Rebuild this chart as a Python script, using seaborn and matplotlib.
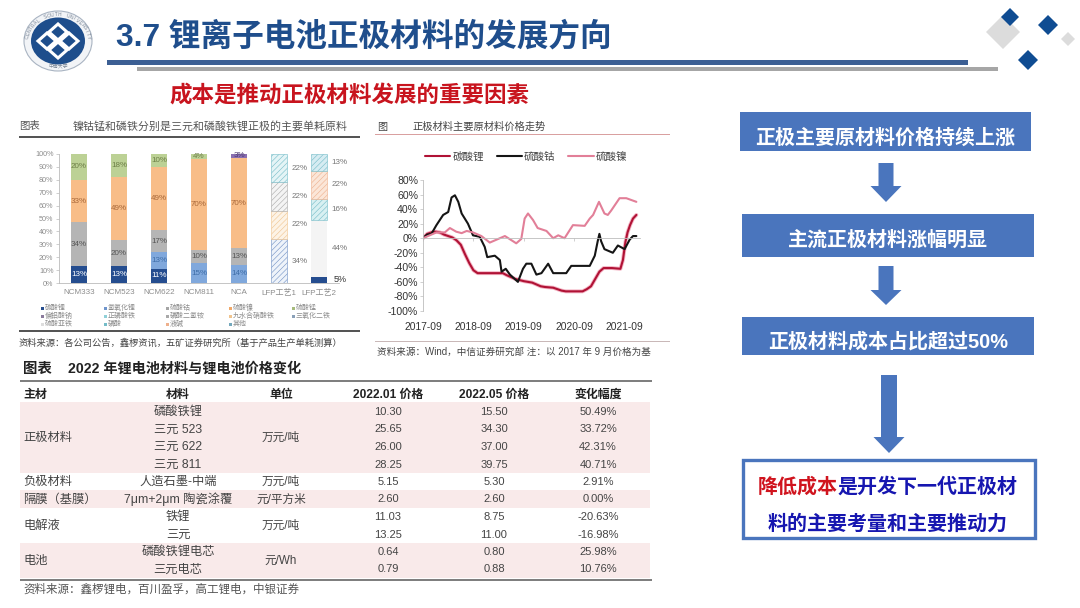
import numpy as np
import pandas as pd
import matplotlib
matplotlib.use("Agg")
import matplotlib.pyplot as plt
from matplotlib.patches import Rectangle, Polygon, Ellipse
import seaborn as sns

# stacked bars: share of raw materials per cathode type
categories = ["NCM333", "NCM523", "NCM622", "NCM811", "NCA", "LFP工艺1", "LFP工艺2"]
li_carbonate = [13, 13, 11, 0, 0, 0, 5]
li_hydroxide = [0, 0, 13, 15, 14, 0, 0]
cobalt_sulfate = [34, 20, 17, 10, 13, 0, 0]
nickel_sulfate = [33, 49, 49, 70, 70, 0, 0]
manganese_sulfate = [20, 18, 10, 4, 0, 0, 0]
sodium_aluminate = [0, 0, 0, 0, 3, 0, 0]
iron_phosphate = [0, 0, 0, 0, 0, 34, 0]
iron_nitrate = [0, 0, 0, 0, 0, 22, 0]
ammonium_phosphate = [0, 0, 0, 0, 0, 22, 0]
iron_oxide = [0, 0, 0, 0, 0, 22, 0]
ferrous_sulfate = [0, 0, 0, 0, 0, 0, 44]
phosphoric_acid = [0, 0, 0, 0, 0, 0, 16]
lye = [0, 0, 0, 0, 0, 0, 22]
others = [0, 0, 0, 0, 0, 0, 13]
legend_names = ["碳酸锂", "氢氧化锂", "硫酸钴", "硫酸镍", "硫酸锰",
                "偏铝酸钠", "正磷酸铁", "磷酸二氢铵", "九水合硝酸铁", "三氧化二铁",
                "硫酸亚铁", "磷酸", "液碱", "其他"]

# price trend, months since 2017-09, % change
li_months = [0, 1, 2, 3, 4, 5, 6, 7, 8, 9, 10, 11, 12, 13, 15, 17, 19, 20, 22, 24, 26, 28, 29, 31,
             33, 34, 36, 38, 39, 40, 41, 42, 43, 45, 47, 47.6, 48.2, 48.7, 49.3, 50, 50.8]
li_change = [0, 6, 8, 9, 8, 5, 3, 1, -3, -9, -22, -34, -44, -48, -48, -48, -48, -51, -56, -59, -61, -66, -67, -68,
             -72, -73, -73, -73, -70, -66, -56, -46, -41, -41, -42, -30, -5, 8, 18, 27, 32]
co_months = [0, 1, 2, 3.2, 4.8, 6, 6.8, 7.6, 8.4, 9.2, 10.7, 11.9, 13.5, 14.7, 15.3, 17.1, 18.3, 18.7,
             19.7, 20.7, 22.6, 23.8, 24.6, 25.8, 27, 28.2, 29.8, 31, 34.1, 35.3, 39.7, 40.9, 41.6, 42,
             42.4, 43.2, 45.2, 46.4, 48, 49.2, 50, 50.8]
co_change = [0, 5, 6, 18, 32, 36, 56, 59, 50, 34, 20, 4, 2, -12, -26, -24, -30, -46,
             -42, -50, -60, -42, -35, -35, -50, -48, -35, -48, -48, -38, -38, -24, -4, 6,
             -4, -15, -20, -10, -15, -2, 3, 3]
ni_months = [0, 3.2, 5.2, 6.4, 7.9, 9.2, 10.4, 11.9, 13.9, 15.9, 17.9, 19.5, 21.4, 22.2, 23.4, 24.2, 25,
             26.2, 27.3, 29.4, 31, 32.2, 33.7, 35.7, 38.5, 39.7, 40.5, 41.9, 43.2, 44, 44.8, 46.8, 48.4, 50.8]
ni_change = [0, 8, 8, 14, 9, 7, 10, 8, 3, -6, -1, 3, -4, -7, -1, 27, 34,
             25, 14, 10, 0, 4, 0, 18, 17, 27, 32, 50, 34, 32, 38, 55, 55, 50]
trend_tick_months = [0, 12, 24, 36, 48]
trend_tick_labels = ["2017-09", "2018-09", "2019-09", "2020-09", "2021-09"]

# price table
table_header = ["主材", "材料", "单位", "2022.01 价格", "2022.05 价格", "变化幅度"]
table_group = ["正极材料", "负极材料", "隔膜（基膜）", "电解液", "电池"]
table_material = ["磷酸铁锂", "三元 523", "三元 622", "三元 811", "人造石墨-中端",
                  "7μm+2μm 陶瓷涂覆", "铁锂", "三元", "磷酸铁锂电芯", "三元电芯"]
table_unit = ["万元/吨", "万元/吨", "元/平方米", "万元/吨", "元/Wh"]
price_jan = ["10.30", "25.65", "26.00", "28.25", "5.15", "2.60", "11.03", "13.25", "0.64", "0.79"]
price_may = ["15.50", "34.30", "37.00", "39.75", "5.30", "2.60", "8.75", "11.00", "0.80", "0.88"]
price_change = ["50.49%", "33.72%", "42.31%", "40.71%", "2.91%", "0.00%", "-20.63%", "-16.98%", "25.98%", "10.76%"]

sns.set_theme(style="white")
plt.rcParams["font.family"] = ["Liberation Sans", "Noto Sans CJK SC", "DejaVu Sans"]
plt.rcParams["hatch.linewidth"] = 0.4
plt.rcParams["axes.unicode_minus"] = False

W, H = 1080, 608
BLUE = "#4a75bd"
fig = plt.figure(figsize=(W / 100, H / 100), dpi=100, facecolor="white")

# whole slide in pixel coordinates
bg = fig.add_axes([0, 0, 1, 1])
bg.set_xlim(0, W)
bg.set_ylim(H, 0)
bg.axis("off")


def px_axes(left, top, right, bottom):
    ax = fig.add_axes([left / W, 1 - bottom / H, (right - left) / W, (bottom - top) / H])
    ax.patch.set_visible(False)
    return ax


def rect(x0, y0, x1, y1, **kw):
    bg.add_patch(Rectangle((x0, y0), x1 - x0, y1 - y0, linewidth=kw.pop("linewidth", 0), **kw))


def diamond(cx, cy, r, color):
    bg.add_patch(Polygon([(cx - r, cy), (cx, cy - r), (cx + r, cy), (cx, cy + r)], closed=True,
                         facecolor=color, edgecolor="none"))


def down_arrow(cx, top, neck, tip, half_shaft, half_head):
    pts = [(cx - half_shaft, top), (cx + half_shaft, top), (cx + half_shaft, neck), (cx + half_head, neck),
           (cx, tip), (cx - half_head, neck), (cx - half_shaft, neck)]
    bg.add_patch(Polygon(pts, closed=True, facecolor=BLUE, edgecolor="none"))


# ---- header ----
bg.add_patch(Ellipse((58, 41), 68, 60, facecolor="#f2f4f7", edgecolor="#a9b4c2", linewidth=0.8))
bg.add_patch(Ellipse((58, 41), 54, 47, facecolor="#1e4e8c", edgecolor="none"))
for cx, cy in [(47, 41), (69, 41), (58, 32), (58, 50)]:
    bg.add_patch(Polygon([(cx - 9, cy), (cx, cy - 8), (cx + 9, cy), (cx, cy + 8)], closed=True,
                         facecolor="none", edgecolor="white", linewidth=2.2))
ring = "CENTRAL SOUTH UNIVERSITY"
for ch, deg in zip(ring, np.linspace(172, 8, len(ring))):
    t = np.radians(deg)
    bg.text(58 + 30.5 * np.cos(t), 41 - 26.5 * np.sin(t), ch, fontsize=3.6, color="#7b8797",
            ha="center", va="center", rotation=deg - 90)
bg.text(58, 67, "中南大学", fontsize=3.5, color="#7b8797", ha="center", va="center")

bg.text(116, 37, "3.7 锂离子电池正极材料的发展方向", fontsize=22.8, fontweight="bold", color="#1f4e8c",
        ha="left", va="center")
rect(107, 60, 968, 65, facecolor="#3c5f94")
rect(137, 67, 998, 71, facecolor="#a6a6a6")
diamond(1003, 32, 17, "#dcdcdc")
diamond(1010, 17, 9, "#0f4c92")
diamond(1048, 25, 10, "#0f4c92")
diamond(1068, 39, 7, "#dcdcdc")
diamond(1028, 60, 10, "#0f4c92")
bg.text(349, 96, "成本是推动正极材料发展的重要因素", fontsize=16.2, fontweight="bold", color="#c8141e",
        ha="center", va="center")

# ---- raw material bars ----
bg.text(19, 126, "图表", fontsize=7.5, color="#555555", va="center")
bg.text(73, 126, "镍钴锰和磷铁分别是三元和磷酸铁锂正极的主要单耗原料", fontsize=7.9, color="#555555", va="center")
rect(19, 136, 360, 137.5, facecolor="#555555")

series = [
    (li_carbonate, "#254d8f", "#254d8f", None, "white"),
    (li_hydroxide, "#80a8dc", "#80a8dc", None, "#3f6ea8"),
    (cobalt_sulfate, "#b5b5b5", "#b5b5b5", None, "#555555"),
    (nickel_sulfate, "#f8bd88", "#f8bd88", None, "#a8683a"),
    (manganese_sulfate, "#bcd195", "#bcd195", None, "#6d7f47"),
    (sodium_aluminate, "#8a6fb0", "#8a6fb0", None, "#4d3a72"),
    (iron_phosphate, "#eef3fa", "#6f90c4", "//////", "#666666"),
    (iron_nitrate, "#fdf3e6", "#f0c48e", "//////", "#666666"),
    (ammonium_phosphate, "#f4f4f4", "#a9a9a9", "//////", "#666666"),
    (iron_oxide, "#e4f4f6", "#74bcc8", "//////", "#666666"),
    (ferrous_sulfate, "#f4f4f4", "#c9c9c9", None, "#666666"),
    (phosphoric_acid, "#d8f0f2", "#74bcc8", "//////", "#666666"),
    (lye, "#fbe6d8", "#eeb08c", "//////", "#666666"),
    (others, "#d6ecf2", "#74bcc8", "//////", "#666666"),
]
totals = np.sum([s[0] for s in series], axis=0)

ax_bar = px_axes(59, 154, 339, 283)
bottoms = np.zeros(len(categories))
for values, face, edge, hatch, label_color in series:
    for i, v in enumerate(values):
        if v == 0:
            continue
        h = v / totals[i] * 100
        sns.barplot(x=[categories[i]], y=[h], order=categories, bottom=bottoms[i], color=face, saturation=1,
                    width=0.42, edgecolor=edge, hatch=hatch, linewidth=0.4 if hatch else 0, ax=ax_bar)
        if i < 5:
            ax_bar.text(i, bottoms[i] + h / 2, f"{v}%", fontsize=5.8, color=label_color, ha="center", va="center")
        elif v == 5:
            ax_bar.text(i + 0.52, bottoms[i] + h / 2, f"{v}%", fontsize=6.5, color="#333333", ha="center", va="center")
        else:
            ax_bar.text(i + 0.52, bottoms[i] + h / 2, f"{v}%", fontsize=5.8, color="#777777", ha="center", va="center")
        bottoms[i] += h
ax_bar.set_xlim(-0.5, 6.5)
ax_bar.set_ylim(0, 100)
ax_bar.set_yticks(range(0, 101, 10))
ax_bar.set_yticklabels([f"{t}%" for t in range(0, 101, 10)])
ax_bar.set_xlabel("")
ax_bar.set_ylabel("")
ax_bar.tick_params(axis="y", labelsize=5.2, labelcolor="#8c8c8c", length=2, width=0.5, color="#bbbbbb", pad=2, left=True)
ax_bar.tick_params(axis="x", labelsize=5.8, labelcolor="#8c8c8c", length=0, pad=4.5)
sns.despine(ax=ax_bar)
for side in ["left", "bottom"]:
    ax_bar.spines[side].set_color("#bbbbbb")
    ax_bar.spines[side].set_linewidth(0.6)

legend_colors = ["#254d8f", "#6f95cc", "#a5a5a5", "#f0a868", "#a6bb7c", "#8a7a9c", "#8fd0d8", "#a9a9a9",
                 "#f0c48e", "#8aa0b8", "#dddddd", "#74bcc8", "#eeb08c", "#74a8bc"]
legend_x = [42, 105, 167, 230, 293]
legend_y = [308, 316, 324]
for i, (name, color) in enumerate(zip(legend_names, legend_colors)):
    lx, ly = legend_x[i % 5], legend_y[i // 5]
    rect(lx - 1.5, ly - 1.5, lx + 1.5, ly + 1.5, facecolor=color)
    bg.text(lx + 3, ly, name, fontsize=5, color="#8c8c8c", va="center")
rect(19, 330, 360, 331.5, facecolor="#555555")
bg.text(19, 343, "资料来源：各公司公告，鑫椤资讯，五矿证券研究所（基于产品生产单耗测算）", fontsize=6.7,
        color="#444444", va="center")

# ---- price trend ----
bg.text(377, 127, "图", fontsize=7.3, color="#444444", va="center")
bg.text(412, 127, "正极材料主要原材料价格走势", fontsize=7.4, color="#444444", va="center")
rect(375, 133.5, 670, 134.5, facecolor="#d9a0a0")

trend = pd.concat([
    pd.DataFrame({"month": li_months, "change": li_change, "material": "碳酸锂"}),
    pd.DataFrame({"month": co_months, "change": co_change, "material": "硫酸钴"}),
    pd.DataFrame({"month": ni_months, "change": ni_change, "material": "硫酸镍"}),
])
ax_line = px_axes(423, 180, 640, 311)
sns.lineplot(data=trend[trend.material == "碳酸锂"], x="month", y="change", color="#f4b4c4", linewidth=2.8,
             estimator=None, sort=False, legend=False, ax=ax_line)
sns.lineplot(data=trend, x="month", y="change", hue="material", hue_order=["碳酸锂", "硫酸钴", "硫酸镍"],
             palette={"碳酸锂": "#b01235", "硫酸钴": "#151515", "硫酸镍": "#e27f98"}, linewidth=1.5,
             estimator=None, sort=False, ax=ax_line)
ax_line.set_xlim(0, (640 - 423) / (50.4 / 12))
ax_line.set_ylim(-100, 80)
ax_line.set_yticks(range(-100, 81, 20))
ax_line.set_yticklabels([f"{t}%" for t in range(-100, 81, 20)])
ax_line.set_xticks(trend_tick_months)
ax_line.set_xticklabels(trend_tick_labels)
ax_line.set_xlabel("")
ax_line.set_ylabel("")
sns.despine(ax=ax_line)
ax_line.spines["bottom"].set_position(("data", 0))
for side in ["left", "bottom"]:
    ax_line.spines[side].set_color("#bdbdbd")
    ax_line.spines[side].set_linewidth(0.6)
ax_line.tick_params(axis="y", labelsize=7.6, labelcolor="#333333", left=True, length=2, width=0.5, color="#bdbdbd", pad=1.5)
ax_line.tick_params(axis="x", labelsize=7.4, labelcolor="#333333", bottom=True, length=2, width=0.5, color="#bdbdbd", pad=58)
ax_line.legend(ncol=3, frameon=False, loc="center left", bbox_to_anchor=(425 / W, 1 - 157 / H),
               bbox_transform=fig.transFigure, fontsize=7.6, labelcolor="#444444", handlelength=2.4,
               handletextpad=0.2, columnspacing=1.2, borderpad=0, borderaxespad=0)
rect(375, 341, 670, 342, facecolor="#c9b8b8")
bg.text(377, 352, "资料来源：Wind，中信证券研究部 注：以 2017 年 9 月价格为基", fontsize=6.9, color="#444444",
        va="center", clip_on=True)

# ---- price table ----
col_x = [23, 178, 281, 388, 494, 598]
row_y = [412, 429.5, 447, 464.5, 482, 499.5, 517, 534.5, 552, 569.5]
group_y = [438, 482, 499.5, 526, 561]
unit_y = [438, 482, 499.5, 526, 561]
bg.text(23, 369, "图表", fontsize=10.4, fontweight="bold", color="#222222", va="center")
bg.text(68, 369, "2022 年锂电池材料与锂电池价格变化", fontsize=10.2, fontweight="bold", color="#222222", va="center")
rect(20, 380, 652, 381.5, facecolor="#7f7f7f")
for y0, y1 in [(402, 472.5), (489.5, 507.5), (543, 577.5)]:
    rect(20, y0, 650, y1, facecolor="#f9eaea")
for j, (label, x) in enumerate(zip(table_header, col_x)):
    bg.text(x, 395, label, fontsize=8.6, fontweight="bold", color="#222222", ha="left" if j == 0 else "center", va="center")
for label, y in zip(table_group, group_y):
    bg.text(23, y, label, fontsize=8.8, color="#444444", ha="left", va="center")
for label, y in zip(table_unit, unit_y):
    bg.text(col_x[2], y, label, fontsize=8.4, color="#444444", ha="center", va="center")
for mat, jan, may, chg, y in zip(table_material, price_jan, price_may, price_change, row_y):
    bg.text(col_x[1], y, mat, fontsize=8.8, color="#444444", ha="center", va="center")
    bg.text(col_x[3], y, jan, fontsize=8, color="#444444", ha="center", va="center")
    bg.text(col_x[4], y, may, fontsize=8, color="#444444", ha="center", va="center")
    bg.text(col_x[5], y, chg, fontsize=8, color="#444444", ha="center", va="center")
rect(20, 579, 652, 580.5, facecolor="#7f7f7f")
bg.text(23, 590, "资料来源：鑫椤锂电，百川盈孚，高工锂电，中银证券", fontsize=8.3, color="#555555", va="center")

# ---- right column ----
rect(740, 112, 1031, 151, facecolor=BLUE)
bg.text(885, 138, "正极主要原材料价格持续上涨", fontsize=14.4, fontweight="bold", color="white", ha="center", va="center")
down_arrow(886, 163, 186, 202, 7.5, 15.5)
rect(742, 213.5, 1034, 256.5, facecolor=BLUE)
bg.text(888, 240, "主流正极材料涨幅明显", fontsize=14.4, fontweight="bold", color="white", ha="center", va="center")
down_arrow(886, 266, 290, 305, 7.5, 15.5)
rect(742, 316.5, 1034, 355, facecolor=BLUE)
bg.text(888, 342, "正极材料成本占比超过50%", fontsize=14.4, fontweight="bold", color="white", ha="center", va="center")
down_arrow(889, 375, 437, 453, 8, 15.5)
rect(743, 460, 1035, 538, facecolor="white", edgecolor=BLUE, linewidth=2.4)
bg.text(758, 487, "降低成本", fontsize=14.4, fontweight="bold", color="#d0141e", ha="left", va="center")
bg.text(838, 487, "是开发下一代正极材", fontsize=14.4, fontweight="bold", color="#1616b0", ha="left", va="center")
bg.text(888, 524, "料的主要考量和主要推动力", fontsize=14.4, fontweight="bold", color="#1616b0", ha="center", va="center")

fig.savefig("out.png", dpi=100)
